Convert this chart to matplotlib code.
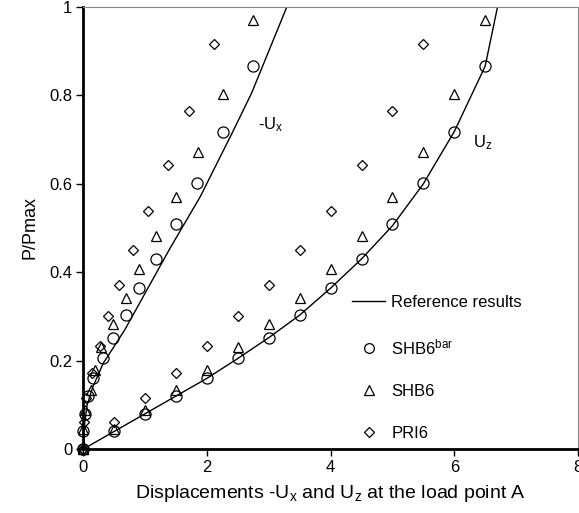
import matplotlib
matplotlib.use('Agg')
import matplotlib.pyplot as plt
from matplotlib.lines import Line2D

plt.rcParams['font.family'] = ['Liberation Sans', 'DejaVu Sans']
plt.rcParams['mathtext.fontset'] = 'custom'
plt.rcParams['mathtext.rm'] = 'Liberation Sans'
plt.rcParams['mathtext.it'] = 'Liberation Sans'

# reference curves
ref_ux_x = [0, 0.02, 0.06, 0.15, 0.32, 0.67, 1.13, 1.4, 1.89, 2.42, 2.72, 3.29]
ref_ux_y = [0, 0.06, 0.1, 0.14, 0.194, 0.27, 0.386, 0.454, 0.571, 0.719, 0.805, 1.0]
ref_uz_x = [0, 0.5, 1, 1.5, 2, 2.5, 3, 3.5, 4, 4.5, 5, 5.5, 6, 6.5, 6.7]
ref_uz_y = [0, 0.04, 0.08, 0.12, 0.16, 0.205, 0.252, 0.303, 0.364, 0.43, 0.505, 0.6, 0.718, 0.866, 1.0]

# SHB6bar (circles)
bar_load = [0, 0.04, 0.08, 0.12, 0.16, 0.205, 0.252, 0.303, 0.364, 0.43, 0.509, 0.601, 0.718, 0.866]
bar_uz = [0, 0.5, 1, 1.5, 2, 2.5, 3, 3.5, 4, 4.5, 5, 5.5, 6, 6.5]
bar_ux = [0, 0.0, 0.02, 0.08, 0.16, 0.32, 0.47, 0.68, 0.9, 1.17, 1.49, 1.84, 2.26, 2.74]

# SHB6 (triangles)
shb_load = [0, 0.045, 0.088, 0.133, 0.179, 0.23, 0.283, 0.341, 0.407, 0.482, 0.569, 0.673, 0.802, 0.97]
shb_uz = [0, 0.5, 1, 1.5, 2, 2.5, 3, 3.5, 4, 4.5, 5, 5.5, 6, 6.5]
shb_ux = [0, 0.0, 0.03, 0.12, 0.19, 0.29, 0.47, 0.68, 0.9, 1.17, 1.49, 1.85, 2.26, 2.74]

# PRI6 (diamonds)
pri_load = [0, 0.06, 0.115, 0.173, 0.233, 0.3, 0.371, 0.45, 0.538, 0.643, 0.765, 0.916]
pri_uz = [0, 0.5, 1, 1.5, 2, 2.5, 3, 3.5, 4, 4.5, 5, 5.5]
pri_ux = [0, 0.01, 0.04, 0.13, 0.27, 0.4, 0.58, 0.8, 1.05, 1.36, 1.71, 2.11]

fig = plt.figure(figsize=(5.79, 5.13), dpi=100)
ax = fig.add_axes([0.1442, 0.1248, 0.8538, 0.8616])

ax.plot(ref_ux_x, ref_ux_y, color='black', lw=1.0)
ax.plot(ref_uz_x, ref_uz_y, color='black', lw=1.0)

mk = dict(linestyle='none', markerfacecolor='none', markeredgecolor='black',
          markeredgewidth=0.9)
for xs in (bar_ux, bar_uz):
    ax.plot(xs, bar_load, marker='o', markersize=8, clip_on=False, **mk)
for xs in (shb_ux, shb_uz):
    ax.plot(xs, shb_load, marker='^', markersize=7.5, clip_on=False, **mk)
for xs in (pri_ux, pri_uz):
    ax.plot(xs, pri_load, marker='D', markersize=5.5, clip_on=False, **mk)

ax.text(2.83, 0.723, '-U$_\\mathrm{x}$', fontsize=12)
ax.text(6.3, 0.683, 'U$_\\mathrm{z}$', fontsize=12)

handles = [
    Line2D([], [], color='black', lw=1.0),
    Line2D([], [], marker='o', markersize=7, **mk),
    Line2D([], [], marker='^', markersize=7, **mk),
    Line2D([], [], marker='D', markersize=5, **mk),
]
labels = ['Reference results', 'SHB6$^{\\mathrm{bar}}$', 'SHB6', 'PRI6']
ax.legend(handles, labels, loc='upper left', bbox_to_anchor=(0.53, 0.363),
          frameon=False, fontsize=12, handlelength=2.0, handletextpad=0.35,
          labelspacing=1.62, borderaxespad=0)

ax.set_xlim(0, 8)
ax.set_ylim(0, 1)
ax.set_xticks([0, 2, 4, 6, 8])
ax.set_xticklabels(['0', '2', '4', '6', '8'])
ax.set_yticks([0, 0.2, 0.4, 0.6, 0.8, 1])
ax.set_yticklabels(['0', '0.2', '0.4', '0.6', '0.8', '1'])
ax.tick_params(direction='out', length=5, width=1, labelsize=12, pad=3)

ax.spines['left'].set_linewidth(2)
ax.spines['bottom'].set_linewidth(2)
for s in ('top', 'right'):
    ax.spines[s].set_linewidth(0.8)
    ax.spines[s].set_color('#888888')

ax.set_xlabel('Displacements -U$_\\mathrm{x}$ and U$_\\mathrm{z}$ at the load point A',
              fontsize=14, labelpad=6)
ax.set_ylabel('P/Pmax', fontsize=13, labelpad=8)

fig.savefig('out.png', dpi=100)
